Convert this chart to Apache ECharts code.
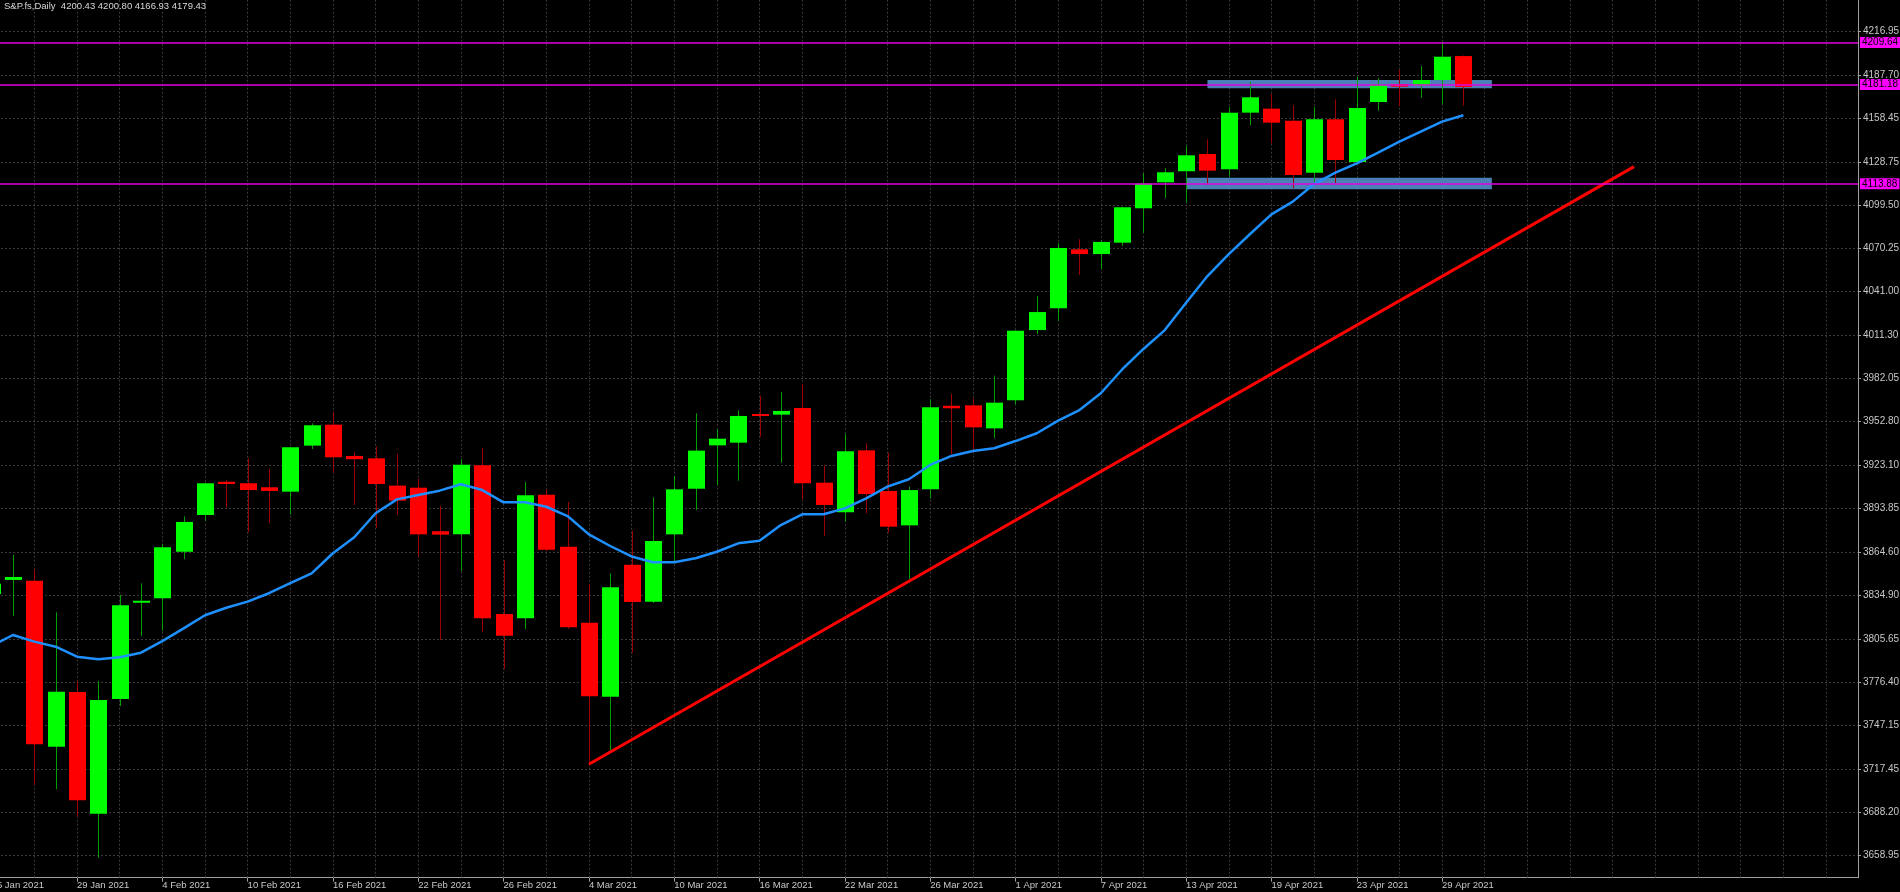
<!DOCTYPE html>
<html lang="en">
<head>
    <meta charset="UTF-8">
    <title>S&amp;P.fs,Daily</title>
    <script src="https://cdn.jsdelivr.net/npm/echarts@6/dist/echarts.min.js"></script>
    <style>
        html, body {
            margin: 0;
            height: 100%;
            background: #000;
        }
    </style>
</head>
<body>
<div id="main" style="width: 1900px;height: 892px"></div>
<script>
    // trading days on the chart
    var dates = [
        '25 Jan 2021', '26 Jan 2021', '27 Jan 2021', '28 Jan 2021', '29 Jan 2021',
        '1 Feb 2021', '2 Feb 2021', '3 Feb 2021', '4 Feb 2021', '5 Feb 2021',
        '8 Feb 2021', '9 Feb 2021', '10 Feb 2021', '11 Feb 2021', '12 Feb 2021',
        '15 Feb 2021', '16 Feb 2021', '17 Feb 2021', '18 Feb 2021', '19 Feb 2021',
        '22 Feb 2021', '23 Feb 2021', '24 Feb 2021', '25 Feb 2021', '26 Feb 2021',
        '1 Mar 2021', '2 Mar 2021', '3 Mar 2021', '4 Mar 2021', '5 Mar 2021',
        '8 Mar 2021', '9 Mar 2021', '10 Mar 2021', '11 Mar 2021', '12 Mar 2021',
        '15 Mar 2021', '16 Mar 2021', '17 Mar 2021', '18 Mar 2021', '19 Mar 2021',
        '22 Mar 2021', '23 Mar 2021', '24 Mar 2021', '25 Mar 2021', '26 Mar 2021',
        '29 Mar 2021', '30 Mar 2021', '31 Mar 2021', '1 Apr 2021', '2 Apr 2021',
        '5 Apr 2021', '6 Apr 2021', '7 Apr 2021', '8 Apr 2021', '9 Apr 2021',
        '12 Apr 2021', '13 Apr 2021', '14 Apr 2021', '15 Apr 2021', '16 Apr 2021',
        '19 Apr 2021', '20 Apr 2021', '21 Apr 2021', '22 Apr 2021', '23 Apr 2021',
        '26 Apr 2021', '27 Apr 2021', '28 Apr 2021', '29 Apr 2021', '30 Apr 2021'
    ];
    // empty slots to the right (chart shift)
    var futureDates = [
        '3 May 2021', '4 May 2021', '5 May 2021', '6 May 2021', '7 May 2021',
        '10 May 2021', '11 May 2021', '12 May 2021', '13 May 2021', '14 May 2021',
        '17 May 2021', '18 May 2021', '19 May 2021', '20 May 2021', '21 May 2021',
        '24 May 2021', '25 May 2021', '26 May 2021'
    ];

    var open = [
        3836.0, 3845.5, 3845.0, 3732.5, 3769.6, 3687.1, 3764.8, 3830.1, 3833.1, 3864.6,
        3889.5, 3912.0, 3911.0, 3908.3, 3905.3, 3936.5, 3950.7, 3929.5, 3927.9, 3909.4,
        3908.0, 3878.5, 3876.4, 3923.2, 3822.4, 3819.5, 3903.3, 3868.0, 3816.5, 3766.4,
        3855.8, 3830.8, 3876.4, 3907.3, 3936.7, 3938.5, 3957.9, 3957.5, 3962.0, 3911.4,
        3891.3, 3933.3, 3905.8, 3882.5, 3906.9, 3963.5, 3963.8, 3948.2, 3967.2, 4014.8,
        4029.5, 4069.5, 4066.3, 4074.0, 4097.3, 4114.9, 4122.4, 4134.1, 4123.7, 4162.1,
        4164.8, 4156.6, 4121.4, 4157.6, 4128.6, 4169.3, 4181.5, 4180.2, 4184.2, 4200.43
    ];
    var high = [
        3858.0, 3862.4, 3852.7, 3823.6, 3777.0, 3777.0, 3835.3, 3843.2, 3869.9, 3888.6,
        3911.5, 3913.2, 3927.9, 3920.5, 3935.6, 3951.6, 3959.1, 3932.0, 3935.8, 3930.8,
        3913.9, 3895.6, 3927.4, 3934.7, 3859.0, 3911.8, 3906.9, 3898.3, 3842.6, 3850.0,
        3878.9, 3901.5, 3915.9, 3958.4, 3947.6, 3960.2, 3970.3, 3972.8, 3978.3, 3923.2,
        3944.4, 3938.1, 3931.7, 3908.7, 3967.9, 3971.5, 3968.6, 3983.9, 4014.7, 4037.9,
        4073.6, 4076.3, 4075.4, 4098.4, 4121.0, 4124.4, 4139.5, 4144.0, 4166.1, 4183.0,
        4174.7, 4167.1, 4166.1, 4171.1, 4186.4, 4185.4, 4191.0, 4193.7, 4210.2, 4200.80
    ];
    var low = [
        3801.0, 3821.1, 3706.6, 3703.7, 3685.1, 3657.3, 3760.1, 3807.5, 3811.1, 3859.7,
        3885.6, 3894.7, 3877.8, 3884.3, 3890.0, 3934.2, 3918.2, 3896.3, 3880.5, 3889.7,
        3861.3, 3804.8, 3851.6, 3810.0, 3785.0, 3812.3, 3865.0, 3812.5, 3720.1, 3730.3,
        3796.2, 3829.9, 3856.8, 3892.9, 3909.8, 3912.7, 3942.5, 3924.9, 3900.3, 3875.3,
        3885.0, 3890.7, 3877.5, 3845.9, 3900.8, 3930.6, 3933.5, 3941.5, 3964.5, 4012.1,
        4021.1, 4052.1, 4056.2, 4071.8, 4080.8, 4104.1, 4101.1, 4113.1, 4118.7, 4153.7,
        4141.3, 4110.8, 4114.6, 4114.6, 4128.0, 4163.4, 4166.6, 4172.2, 4167.8, 4166.93
    ];
    var close = [
        3843.0, 3847.5, 3734.2, 3769.8, 3696.2, 3764.2, 3828.3, 3831.4, 3867.6, 3884.8,
        3911.0, 3910.5, 3906.4, 3905.8, 3935.4, 3950.3, 3928.6, 3927.3, 3910.5, 3899.2,
        3876.4, 3876.2, 3923.6, 3819.5, 3807.7, 3902.8, 3866.0, 3813.4, 3766.7, 3840.5,
        3830.6, 3871.9, 3906.9, 3933.1, 3941.2, 3956.6, 3956.8, 3960.0, 3911.0, 3896.3,
        3932.7, 3903.7, 3881.6, 3906.4, 3962.5, 3961.8, 3948.9, 3965.6, 4014.4, 4027.0,
        4070.4, 4066.3, 4074.5, 4098.0, 4114.0, 4121.7, 4133.2, 4122.8, 4162.1, 4172.5,
        4155.3, 4119.8, 4157.6, 4130.0, 4165.2, 4181.0, 4179.7, 4184.2, 4200.0, 4179.43
    ];
    // moving average as drawn on the chart
    var ma = [
        3800.8, 3808.2, 3803.7, 3800.3, 3793.5, 3791.7, 3793.1, 3796.2, 3804.1, 3812.7,
        3821.6, 3826.7, 3830.8, 3836.5, 3843.4, 3850.0, 3863.6, 3874.4, 3890.7, 3900.1,
        3903.1, 3906.0, 3910.3, 3906.4, 3898.1, 3898.1, 3895.1, 3888.8, 3876.4, 3868.5,
        3861.4, 3857.5, 3857.5, 3860.2, 3864.6, 3870.3, 3872.1, 3882.7, 3890.0, 3890.0,
        3894.0, 3900.8, 3908.7, 3913.7, 3923.4, 3929.5, 3932.9, 3934.7, 3939.6, 3944.9,
        3953.4, 3960.6, 3972.0, 3988.1, 4002.0, 4014.8, 4033.3, 4051.4, 4066.3, 4079.9,
        4093.2, 4101.8, 4113.7, 4121.4, 4127.8, 4135.0, 4142.4, 4149.2, 4156.0, 4160.3
    ];

    var priceTicks = [
        3658.95, 3688.20, 3717.45, 3747.15, 3776.40, 3805.65, 3834.90, 3864.60, 3893.85, 3923.10,
        3952.80, 3982.05, 4011.30, 4041.00, 4070.25, 4099.50, 4128.75, 4158.45, 4187.70, 4216.95
    ];
    var priceMin = 3643.77;
    var priceMax = 4238.42;

    // horizontal levels, trend line and support / resistance boxes
    var levels = [4209.64, 4181.18, 4113.88];
    var trendLine = [['4 Mar 2021', 3720.6], ['12 May 2021', 4125.5]];
    var zones = [
        ['13 Apr 2021', '3 May 2021', 4110.2, 4118.0],
        ['14 Apr 2021', '3 May 2021', 4178.6, 4184.2]
    ];

    var categories = dates.concat(futureDates);
    var lastIdx = dates.length - 1;
    var font = 'Liberation Sans';

    var candleData = dates.map(function (d, i) {
        return [i, open[i], close[i], low[i], high[i]];
    });

    // vertical grid every 2 bars
    var vGrid = [];
    categories.forEach(function (c, i) {
        if (i % 2 === 0) {
            vGrid.push({xAxis: c});
        }
    });

    function showDateLabel(index) {
        return index % 4 === 0 && index <= lastIdx;
    }

    function renderCandle(params, api) {
        var idx = api.value(0);
        var o = api.value(1), c = api.value(2), l = api.value(3), h = api.value(4);
        var pO = api.coord([idx, o]);
        var pC = api.coord([idx, c]);
        var pL = api.coord([idx, l]);
        var pH = api.coord([idx, h]);
        var w = Math.round(api.size([1, 0])[0] * 0.78);
        var up = c >= o;
        var x = Math.round(pO[0]);
        var top = Math.min(pO[1], pC[1]);
        var bot = Math.max(pO[1], pC[1]);
        return {
            type: 'group',
            children: [
                {
                    type: 'line',
                    shape: {x1: x + 0.5, y1: pH[1], x2: x + 0.5, y2: pL[1]},
                    style: {stroke: up ? '#00a000' : '#a00000', lineWidth: 1}
                },
                {
                    type: 'rect',
                    shape: {x: x - w / 2 + 0.5, y: top, width: w, height: Math.max(bot - top, 2)},
                    style: {fill: up ? '#00ff00' : '#ff0000'}
                }
            ]
        };
    }

    function renderZone(params, api) {
        var p0 = api.coord([api.value(0), api.value(3)]);
        var p1 = api.coord([api.value(1), api.value(2)]);
        var extra = api.size([1, 0])[0] / 3;
        return {
            type: 'rect',
            shape: {x: p0[0], y: p0[1], width: p1[0] + extra - p0[0], height: p1[1] - p0[1]},
            style: {fill: '#4a80b6', opacity: 1}
        };
    }

    var n = lastIdx;
    var titleText = 'S&P.fs,Daily  ' + [open[n], high[n], low[n], close[n]].map(function (v) {
        return v.toFixed(2);
    }).join(' ');

    var myChart = echarts.init(document.getElementById('main'));

    var option = {
        backgroundColor: '#000000',
        animation: false,
        title: {
            text: titleText,
            left: 4,
            top: 1,
            padding: 0,
            textStyle: {color: '#d8d8d8', fontSize: 9.5, fontWeight: 'normal', fontFamily: font}
        },
        grid: {
            left: -19,
            right: 42,
            top: 0,
            bottom: 14.3,
            containLabel: false,
            outerBoundsMode: 'none'
        },
        xAxis: {
            type: 'category',
            data: categories,
            boundaryGap: true,
            axisLine: {lineStyle: {color: '#a0a0a0', width: 1}},
            axisTick: {
                show: true,
                alignWithLabel: true,
                length: 4,
                interval: showDateLabel,
                lineStyle: {color: '#a0a0a0'}
            },
            axisLabel: {
                interval: showDateLabel,
                align: 'left',
                margin: 3,
                color: '#c8c8c8',
                fontSize: 9.5,
                fontFamily: font
            },
            splitLine: {show: false}
        },
        yAxis: {
            type: 'value',
            position: 'right',
            min: priceMin,
            max: priceMax,
            axisLine: {show: true, lineStyle: {color: '#a0a0a0', width: 1}},
            axisTick: {
                show: true,
                length: 3,
                customValues: priceTicks,
                lineStyle: {color: '#a0a0a0'}
            },
            axisLabel: {
                customValues: priceTicks,
                margin: 5,
                color: '#c8c8c8',
                fontSize: 10,
                fontFamily: font,
                formatter: function (v) {
                    return v.toFixed(2);
                }
            },
            splitLine: {show: true, lineStyle: {color: '#3a3a3a', type: [2, 2], width: 1}}
        },
        series: [
            {
                name: 'zones',
                type: 'custom',
                z: 2,
                silent: true,
                renderItem: renderZone,
                encode: {x: [0, 1], y: [2, 3]},
                data: zones
            },
            {
                name: 'S&P.fs',
                type: 'custom',
                z: 3,
                silent: true,
                renderItem: renderCandle,
                encode: {x: 0, y: [1, 2, 3, 4]},
                data: candleData
            },
            {
                name: 'MA',
                type: 'line',
                z: 4,
                silent: true,
                symbol: 'none',
                data: ma,
                lineStyle: {color: '#1e90ff', width: 2.5},
                markLine: {
                    z: 1,
                    silent: true,
                    symbol: 'none',
                    label: {show: false},
                    lineStyle: {color: '#3a3a3a', type: [2, 2], width: 1},
                    emphasis: {disabled: true},
                    data: vGrid
                }
            },
            {
                name: 'trend',
                type: 'line',
                z: 5,
                silent: true,
                clip: false,
                symbol: 'none',
                data: trendLine,
                lineStyle: {color: '#ff0000', width: 3},
                markLine: {
                    z: 10,
                    silent: true,
                    symbol: 'none',
                    lineStyle: {color: '#e000e0', type: 'solid', width: 1.5},
                    emphasis: {disabled: true},
                    label: {
                        show: true,
                        position: 'end',
                        distance: 2,
                        formatter: function (p) {
                            return p.value.toFixed(2);
                        },
                        backgroundColor: '#ff00ff',
                        color: '#000000',
                        padding: [1, 2, 0, 2],
                        fontSize: 10,
                        fontFamily: font
                    },
                    data: levels.map(function (v) {
                        return {yAxis: v};
                    })
                }
            }
        ]
    };

    myChart.setOption(option);
</script>
</body>
</html>
